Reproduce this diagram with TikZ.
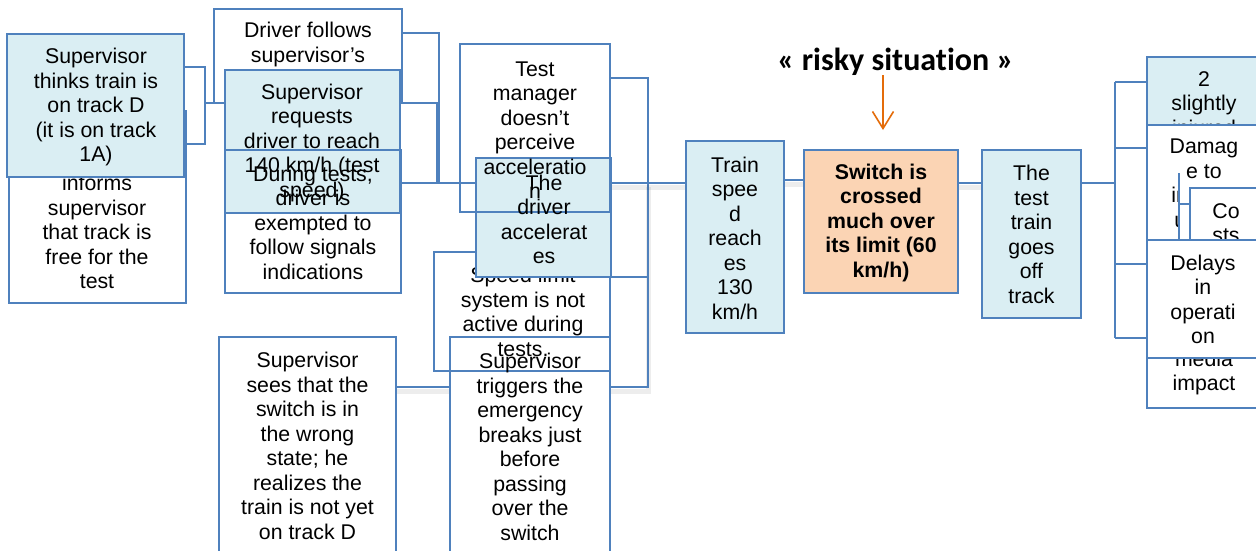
\documentclass[tikz,border=0pt]{standalone}
\usepackage{fontspec}
\setmainfont{Liberation Sans}
\newfontfamily\titlefont[Ligatures=NoCommon]{Carlito}
\usetikzlibrary{arrows.meta}
\definecolor{bord}{HTML}{4F81BD}
\definecolor{lblue}{HTML}{DAEEF3}
\definecolor{peach}{HTML}{FBD4B4}
\definecolor{arrowor}{HTML}{E46C0A}
\tikzset{
  fo/.style={inner sep=0pt, outer sep=0pt, anchor=north west},
  bline/.style={draw=bord, line width=1.2pt},
  conn/.style={draw=bord, line width=1.8pt},
  shad/.style={draw=black, opacity=0.07, line width=5pt, transform canvas={yshift=-4pt}},
  tx/.style={align=center, inner sep=0pt, font=\fontsize{21.3}{24.5}\selectfont},
  txb/.style={align=center, inner sep=0pt, font=\bfseries\fontsize{21.3}{24.5}\selectfont},
}
\begin{document}
\begin{tikzpicture}[x=1pt,y=-1pt]
\useasboundingbox[fill=white] (0,0) rectangle (1256,550);
% ---------- box geometry (nodes without text) ----------
\path
  node[fo, minimum width=177, minimum height=143] (A) at (7,34) {}
  node[fo, minimum width=177, minimum height=192] (B) at (9,111) {}
  node[fo, minimum width=188, minimum height=94]  (C) at (214,9) {}
  node[fo, minimum width=175, minimum height=143] (D) at (225,70) {}
  node[fo, minimum width=176, minimum height=143] (F) at (225,150) {}
  node[fo, minimum width=150, minimum height=168] (G) at (460,44) {}
  node[fo, minimum width=135, minimum height=119] (H) at (476,158) {}
  node[fo, minimum width=176, minimum height=119] (I) at (434,252) {}
  node[fo, minimum width=160, minimum height=230] (J) at (450,337) {}
  node[fo, minimum width=177, minimum height=230] (K) at (219,337) {}
  node[fo, minimum width=98,  minimum height=192] (L) at (686,141) {}
  node[fo, minimum width=154, minimum height=143] (M) at (804,150) {}
  node[fo, minimum width=99,  minimum height=168] (N) at (982,150) {}
  node[fo, minimum width=115, minimum height=68]  (O) at (1147,57) {}
  node[fo, minimum width=115, minimum height=125] (P) at (1147,125) {}
  node[fo, minimum width=72,  minimum height=62]  (Q) at (1190,188) {}
  node[fo, minimum width=115, minimum height=118] (R) at (1147,240) {}
  node[fo, minimum width=115, minimum height=108] (S) at (1147,300) {};
% ---------- connectors behind boxes ----------
\coordinate (jl) at (205,103);
\coordinate (jm) at (439,183);
\coordinate (jm2) at (437,183);
\coordinate (jr) at (648,183);
\coordinate (jn) at (1115,183);
\draw[conn] (A.east |- 0,67) -| (jl) -- (D.west |- jl);
\draw[conn] (B.east |- 0,144) -| (jl);
\draw[conn] (C.east |- 0,33) -| (jm);
\draw[conn] (D.east |- 0,103) -| (jm2);
\draw[shad] (K.east |- 0,387) -- (J.west |- 0,387);
\draw[conn] (K.east |- 0,387) -- (J.west |- 0,387);
\draw[shad] (J.east |- 0,387) -| (jr);
\draw[conn] (G.east |- 0,78) -| (jr);
\draw[conn] (H.east |- 0,277) -| (jr);
\draw[conn] (J.east |- 0,387) -| (jr);
\draw[shad] (L.east |- 0,180) -- (M.west |- 0,180);
\draw[conn] (L.east |- 0,180) -- (M.west |- 0,180);
\draw[shad] (M.east |- 0,183) -- (N.west |- 0,183);
\draw[conn] (M.east |- 0,183) -- (N.west |- 0,183);
\draw[conn] (N.east |- jn) -- (jn);
\draw[conn] (jn |- 0,82) -- (jn |- 0,338);
\draw[conn] (jn |- 0,82) -- (O.west |- 0,82);
\draw[conn] (jn |- 0,148) -- (P.west |- 0,148);
\draw[conn] (jn |- 0,264) -- (R.west |- 0,264);
\draw[conn] (jn |- 0,338) -- (S.west |- 0,338);
% ---------- left group ----------
\fill[white] (B.north west) rectangle (B.south east);
\draw[bline] (B.north west) rectangle (B.south east);
\node[tx] (Bt) at (97,232) {informs\\supervisor\\that track is\\free for the\\test};
\fill[lblue] (A.north west) rectangle (A.south east);
\draw[bline] (A.north west) rectangle (A.south east);
\node[tx] (At) at (96,107) {Supervisor\\thinks train is\\on track D\\(it is on track\\1A)};
\fill[white] (C.north west) rectangle (C.south east);
\draw[bline] (C.north west) rectangle (C.south east);
\node[tx] (Ct) at (308,44.5) {Driver follows\\supervisor’s};
\fill[white] (F.north west) rectangle (F.south east);
\fill[lblue] (D.north west) rectangle (D.south east);
\draw[bline] (F.north west) rectangle (F.south east);
\draw[bline] (D.north west) rectangle (D.south east);
\node[tx] (Dt) at (312,142.5) {Supervisor\\requests\\driver to reach\\140 km/h (test\\speed)};
\node[tx] (Ft) at (313,222.5) {During tests,\\driver is\\exempted to\\follow signals\\indications};
% ---------- middle group ----------
\fill[white] (I.north west) rectangle (I.south east);
\fill[white] (J.north west) rectangle (J.south east);
\fill[white] (K.north west) rectangle (K.south east);
\draw[bline] (K.north west) rectangle (K.south east);
\node[tx] (Kt) at (307.5,446) {Supervisor\\sees that the\\switch is in\\the wrong\\state; he\\realizes the\\train is not yet\\on track D};
\draw[bline] (I.north west) rectangle (I.south east);
\draw[bline] (J.north west) rectangle (J.south east);
\node[tx] (It) at (523,312) {Speed limit\\system is not\\active during\\tests.};
\node[tx] (Jt) at (530,447) {Supervisor\\triggers the\\emergency\\breaks just\\before\\passing\\over the\\switch};
\fill[white] (G.north west) rectangle (G.south east);
\draw[shad] (H.east |- jr) -- (L.west |- jr);
\draw[conn] (F.east |- jr) -- (L.west |- jr);
\fill[lblue] (H.north west) rectangle (H.south east);
\draw[bline] (G.north west) rectangle (G.south east);
\draw[bline] (H.north west) rectangle (H.south east);
\node[tx] (Gt) at (535,130) {Test\\manager\\doesn’t\\perceive\\acceleratio\\n};
\node[tx] (Ht) at (544,219.5) {The\\driver\\accelerat\\es};
% ---------- central chain ----------
\fill[lblue] (L.north west) rectangle (L.south east);
\draw[bline] (L.north west) rectangle (L.south east);
\node[tx] (Lt) at (735,238) {Train\\spee\\d\\reach\\es\\130\\km/h};
\fill[peach] (M.north west) rectangle (M.south east);
\draw[bline] (M.north west) rectangle (M.south east);
\node[txb] (Mt) at (881,222.5) {Switch is\\crossed\\much over\\its limit (60\\km/h)};
\fill[lblue] (N.north west) rectangle (N.south east);
\draw[bline] (N.north west) rectangle (N.south east);
\node[tx] (Nt) at (1031.5,234.5) {The\\test\\train\\goes\\off\\track};
% ---------- right group ----------
\fill[lblue] (O.north west) rectangle (O.south east);
\draw[bline] (O.north west) rectangle (O.south east);
\node[tx] (Ot) at (1204,105.5) {2\\slightly\\injured};
\fill[white] (P.north west) rectangle (P.south east);
\draw[bline] (P.north west) rectangle (P.south east);
\node[tx] (Pt) at (1204,183.5) {Damag\\e to\\infrastr\\ucture};
\fill[white] (1180,186) rectangle (Q.south east);
\coordinate (qv) at (1179,204);
\draw[conn] (qv |- 0,173) -- (qv |- 0,239);
\draw[conn] (qv) -- (Q.west |- qv);
\fill[white] (Q.north west) rectangle (Q.south east);
\draw[bline] (Q.north west) rectangle (Q.south east);
\node[tx] (Qt) at (1226,223) {Co\\sts};
\fill[white] (S.north west) rectangle (S.south east);
\draw[bline] (S.north west) rectangle (S.south east);
\node[tx] (St) at (1204,373) {media\\impact};
\fill[white] (R.north west) rectangle (R.south east);
\draw[bline] (R.north west) rectangle (R.south east);
\node[tx] (Rt) at (1203,299.5) {Delays\\in\\operati\\on};
% ---------- title and arrow ----------
\node[font=\titlefont\bfseries\fontsize{32}{38}\selectfont, inner sep=0pt] (title) at (895.5,62) {« risky situation »};
\coordinate (arS) at (883,75);
\coordinate (arE) at (883,130);
\draw[draw=arrowor, line width=1.6pt, -{Straight Barb[length=17pt,width=21pt,line width=1.6pt]}] (arS) -- (arE);
\end{tikzpicture}
\end{document}
